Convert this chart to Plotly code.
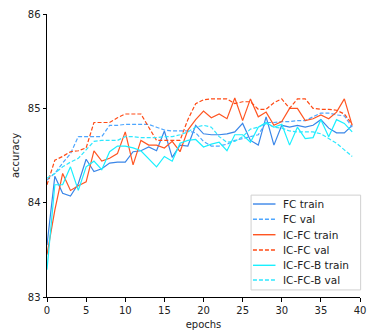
import plotly.graph_objects as go

epochs = list(range(40))

fc_train = [83.55, 84.28, 84.1, 84.07, 84.2, 84.46, 84.33, 84.36, 84.42, 84.43,
            84.43, 84.54, 84.55, 84.59, 84.55, 84.76, 84.48, 84.61, 84.6, 84.82,
            84.73, 84.72, 84.72, 84.73, 84.75, 84.84, 84.66, 84.61, 84.91, 84.61,
            84.82, 84.8, 84.82, 84.8, 84.82, 84.88, 84.79, 84.74, 84.74, 84.82]
fc_val = [84.24, 84.31, 84.42, 84.52, 84.7, 84.7, 84.7, 84.7, 84.82, 84.82,
          84.83, 84.83, 84.83, 84.83, 84.8, 84.77, 84.76, 84.76, 84.76, 84.74,
          84.65, 84.6, 84.6, 84.62, 84.66, 84.68, 84.7, 84.72, 84.85, 84.85,
          84.86, 84.86, 84.87, 84.87, 84.91, 84.95, 84.95, 84.93, 84.92, 84.8]
icfc_train = [83.45, 83.92, 84.31, 84.13, 84.18, 84.22, 84.55, 84.44, 84.47, 84.52,
              84.75, 84.4, 84.66, 84.61, 84.61, 84.58, 84.65, 84.54, 84.77, 84.88,
              84.97, 84.9, 84.94, 84.89, 85.11, 84.87, 85.1, 84.91, 84.96, 84.82,
              84.86, 85.0, 85.0, 84.87, 84.89, 84.93, 84.89, 84.96, 85.1, 84.82]
icfc_val = [84.19, 84.45, 84.49, 84.54, 84.55, 84.58, 84.85, 84.85, 84.85, 84.9,
            84.94, 84.94, 84.94, 84.8, 84.66, 84.66, 84.66, 84.66, 84.88, 85.05,
            85.09, 85.1, 85.1, 85.1, 85.05, 85.07, 85.07, 84.99, 84.99, 85.06,
            85.1, 85.0, 85.1, 85.1, 85.0, 84.99, 84.99, 84.98, 84.94, 84.83]
icfcb_train = [83.29, 84.19, 84.19, 84.38, 84.13, 84.38, 84.44, 84.35, 84.54, 84.6,
               84.6, 84.58, 84.55, 84.47, 84.38, 84.49, 84.44, 84.63, 84.66, 84.67,
               84.59, 84.62, 84.64, 84.55, 84.72, 84.72, 84.64, 84.8, 84.85, 84.8,
               84.83, 84.61, 84.8, 84.68, 84.69, 84.88, 84.7, 84.88, 84.84, 84.75]
icfcb_val = [84.26, 84.31, 84.38, 84.43, 84.47, 84.56, 84.65, 84.66, 84.66, 84.66,
             84.7, 84.7, 84.69, 84.69, 84.69, 84.7, 84.7, 84.72, 84.75, 84.8,
             84.82, 84.8, 84.7, 84.64, 84.65, 84.7, 84.78, 84.8, 84.84, 84.8,
             84.79, 84.76, 84.75, 84.75, 84.75, 84.73, 84.68, 84.63, 84.56, 84.49]

names = ["FC train", "FC val", "IC-FC train", "IC-FC val", "IC-FC-B train", "IC-FC-B val"]
values = [fc_train, fc_val, icfc_train, icfc_val, icfcb_train, icfcb_val]
colors = ["#3a86e8", "#4da6ff", "#ff5522", "#ff4a14", "#19f0ff", "#2ee8ff"]
dashes = ["solid", "4px,2px", "solid", "4px,2px", "solid", "4px,2px"]

fig = go.Figure()
for name, vals, color, dash in zip(names, values, colors, dashes):
    fig.add_trace(go.Scatter(x=epochs, y=vals, mode="lines", name=name,
                             line=dict(color=color, width=1.2, dash=dash)))

font = dict(family="DejaVu Sans", size=10, color="#222")
legend_font = dict(family="DejaVu Sans", size=10.5, color="#222")

# compact legend (matplotlib-style), drawn in paper coordinates
shapes = [dict(type="rect", xref="paper", yref="paper", x0=0.652, x1=1.002,
               y0=0.025, y1=0.360, line=dict(color="#d0d0d0", width=1),
               fillcolor="rgba(255,255,255,0.8)", layer="above")]
annotations = []
row_y = [0.3286, 0.2746, 0.2201, 0.1661, 0.1120, 0.0601]
for yy, name, color, dash in zip(row_y, names, colors, dashes):
    shapes.append(dict(type="line", xref="paper", yref="paper", x0=0.658, x1=0.730,
                       y0=yy, y1=yy, line=dict(color=color, width=1.4, dash=dash),
                       layer="above"))
    annotations.append(dict(text=name, xref="paper", yref="paper", x=0.752, y=yy,
                            xanchor="left", yanchor="middle", showarrow=False,
                            xshift=-1, font=legend_font))

fig.update_layout(
    width=369, height=332,
    margin=dict(l=47, r=3, t=14, b=35),
    paper_bgcolor="white", plot_bgcolor="white",
    font=font,
    showlegend=False,
    shapes=shapes,
    annotations=annotations,
    xaxis=dict(range=[0, 40], tickvals=[0, 5, 10, 15, 20, 25, 30, 35, 40],
               showline=True, linecolor="black", linewidth=1, ticks="outside",
               ticklen=3.5, tickcolor="black", showgrid=False, zeroline=False,
               ticklabeloverflow="allow",
               title=dict(text="epochs", standoff=6, font=font)),
    yaxis=dict(range=[83, 86], tickvals=[83, 84, 85, 86],
               showline=True, linecolor="black", linewidth=1, ticks="outside",
               ticklen=3.5, tickcolor="black", showgrid=False, zeroline=False,
               title=dict(text="accuracy", standoff=6, font=font)),
)

fig.write_html("out.html")
